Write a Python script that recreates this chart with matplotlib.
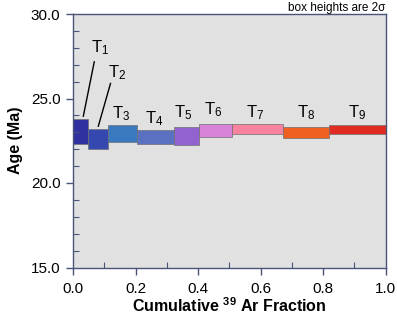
import matplotlib
matplotlib.use("Agg")
import matplotlib.pyplot as plt
from matplotlib.ticker import MultipleLocator, FormatStrFormatter

plt.rcParams['font.family'] = ['Liberation Sans', 'DejaVu Sans']
plt.rcParams['mathtext.fontset'] = 'custom'
plt.rcParams['mathtext.rm'] = 'Liberation Sans'
plt.rcParams['mathtext.bf'] = 'Liberation Sans:bold'

# step boundaries (cumulative 39Ar fraction) and age ranges (2 sigma)
steps = ['1', '2', '3', '4', '5', '6', '7', '8', '9']
frac_left = [0.0, 0.047, 0.113, 0.204, 0.324, 0.403, 0.508, 0.671, 0.820]
frac_right = [0.047, 0.113, 0.204, 0.324, 0.403, 0.508, 0.671, 0.820, 1.0]
age_low = [22.29, 22.04, 22.43, 22.28, 22.23, 22.73, 22.89, 22.69, 22.89]
age_high = [23.79, 23.22, 23.42, 23.16, 23.30, 23.50, 23.52, 23.32, 23.42]
colors = ['#3030a0', '#3448b0', '#3a78c0', '#5a70c0', '#9262d0',
          '#d882d8', '#f8839e', '#f06020', '#e02a22']

# label positions (data coords, baseline) for each step
label_x = [0.086, 0.141, 0.155, 0.259, 0.352, 0.448, 0.582, 0.746, 0.909]
label_y = [27.75, 26.25, 23.84, 23.54, 23.89, 24.07, 23.91, 23.88, 23.91]

fig = plt.figure(figsize=(3.97, 3.18), dpi=100)
ax = fig.add_axes([73 / 397, 1 - 267.5 / 318, 312.5 / 397, 253.5 / 318])
ax.set_facecolor('#e1e1e1')

for i in range(len(steps)):
    ax.fill_between([frac_left[i], frac_right[i]], age_low[i], age_high[i],
                    color=colors[i], edgecolor='#707070', linewidth=0.5)
    ax.text(label_x[i], label_y[i], r'$\mathregular{T_{%s}}$' % steps[i],
            ha='center', va='baseline', fontsize=12)

# leader lines for T1, T2
ax.plot([0.068, 0.033], [27.17, 23.95], color='black', lw=1.0)
ax.plot([0.120, 0.081], [25.89, 23.36], color='black', lw=1.0)

ax.set_xlim(0, 1.0)
ax.set_ylim(15, 30)
ax.xaxis.set_major_locator(MultipleLocator(0.2))
ax.xaxis.set_minor_locator(MultipleLocator(0.1))
ax.yaxis.set_major_locator(MultipleLocator(5))
ax.yaxis.set_minor_locator(MultipleLocator(1))
ax.xaxis.set_major_formatter(FormatStrFormatter('%.1f'))
ax.yaxis.set_major_formatter(FormatStrFormatter('%.1f'))

spine_col = '#4a5478'
for s in ax.spines.values():
    s.set_color(spine_col)
    s.set_linewidth(1.0)
ax.tick_params(which='major', direction='out', length=5, width=1.0,
               color=spine_col, labelsize=11)
ax.tick_params(which='minor', direction='in', length=4, width=0.8,
               color=spine_col)
ax.tick_params(axis='x', which='major', pad=5.5)
ax.tick_params(axis='y', which='major', pad=4)

ax.set_ylabel('Age (Ma)', fontsize=11.5, fontweight='bold', labelpad=6)
ax.set_xlabel(r'Cumulative $^{\mathbf{39}}$ Ar Fraction', fontsize=11.5,
              fontweight='bold', labelpad=0)
fig.text(385 / 397, 0.995, 'box heights are 2\u03c3', ha='right', va='top',
         fontsize=8.5)

fig.savefig('out.png', dpi=100)
